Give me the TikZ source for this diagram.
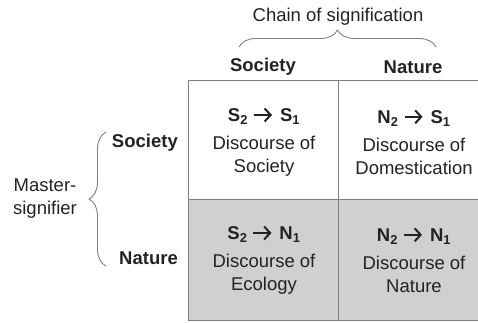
\documentclass[tikz,border=0pt]{standalone}
\usepackage{fontspec}
\setmainfont{Liberation Sans}
\usepackage{xcolor}
\usepackage{tikz}
\usetikzlibrary{positioning,decorations.pathreplacing,arrows.meta,calc}
\definecolor{gridline}{HTML}{7F7F7F}
\definecolor{cellgrey}{HTML}{D0D0D0}
\definecolor{ink}{HTML}{222222}
\newcommand{\idx}[1]{\textsubscript{#1}}
\newcommand{\goesto}{\hspace{5pt}\tikz[baseline]{\draw[ink,line width=2pt,
    -{Straight Barb[length=6pt,width=13pt,line width=2pt]}]
    (0,0.36em) -- (18pt,0.36em);}\hspace{7pt}}

\begin{document}
\begin{tikzpicture}[x=1pt,y=1pt,font=\fontsize{18.5}{23}\selectfont,text=ink,
    cell/.style={align=center,inner sep=0pt},
    head/.style={font=\fontsize{18.5}{23}\selectfont\bfseries,inner sep=0pt},
    curly/.style={draw=gridline,line width=0.9pt,decorate,
                  decoration={brace,amplitude=#1}}]
  \useasboundingbox (0,0) rectangle (478,-322);
  % table
  \fill[cellgrey] (188,-199) rectangle (478,-320);
  \draw[gridline,line width=0.9pt] (188,-80) rectangle (478,-320);
  \draw[gridline,line width=0.9pt] (338,-80) -- (338,-320);
  \draw[gridline,line width=0.9pt] (188,-199) -- (478,-199);
  % cells
  \node[cell] (ss) at (264,-142) {{\bfseries S\idx{2}\goesto S\idx{1}}\\[5pt] Discourse of\\ Society};
  \node[cell] (ns) at (414,-142) {{\bfseries N\idx{2}\goesto S\idx{1}}\\[5pt] Discourse of\\ Domestication};
  \node[cell] (sn) at (264,-260) {{\bfseries S\idx{2}\goesto N\idx{1}}\\[5pt] Discourse of\\ Ecology};
  \node[cell] (nn) at (414,-260) {{\bfseries N\idx{2}\goesto N\idx{1}}\\[5pt] Discourse of\\ Nature};
  % headings
  \node[head] (colsoc) at (263,-67) {Society};
  \node[head] (colnat) at (413,-67) {Nature};
  \node[head,anchor=east] (rowsoc) at (178,-143) {Society};
  \node[head,anchor=east] (rownat) at (178,-258) {Nature};
  \node[inner sep=0pt] (chain) at (338,-17) {Chain of signification};
  \node[cell] (master) at (45,-199) {Master-\\signifier};
  % braces
  \coordinate (topl) at (239,-47);
  \coordinate (topr) at (436,-47);
  \coordinate (leftb) at (106,-266);
  \coordinate (leftt) at (106,-132);
  \draw[curly=17pt] (topl) -- (topr);
  \draw[curly=17pt] (leftb) -- (leftt);
\end{tikzpicture}
\end{document}
